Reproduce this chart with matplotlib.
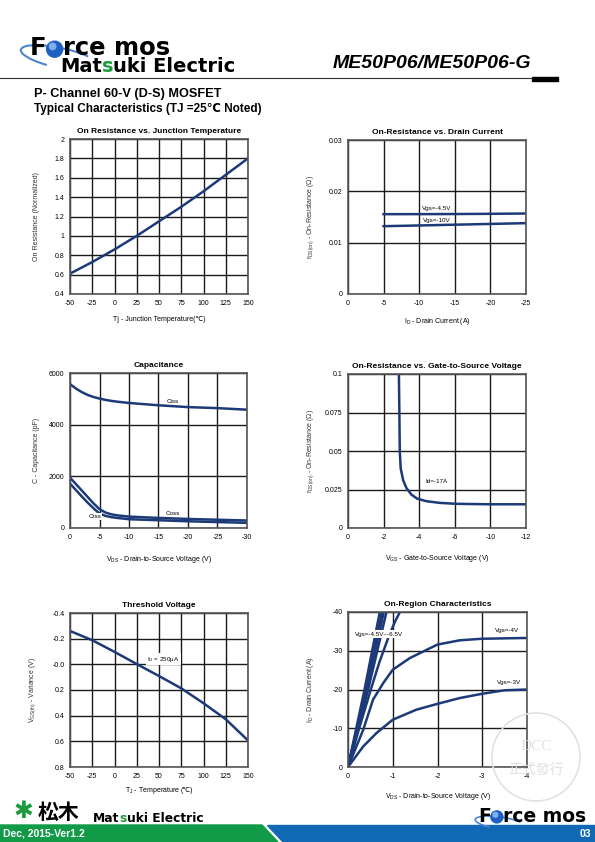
import numpy as np
import matplotlib
matplotlib.use('Agg')
import matplotlib.pyplot as plt
from matplotlib.patches import Polygon, Circle, Arc, Rectangle

plt.rcParams['font.family'] = ['Liberation Sans', 'DejaVu Sans']
plt.rcParams['axes.unicode_minus'] = False
plt.rcParams['mathtext.fontset'] = 'custom'
plt.rcParams['mathtext.rm'] = 'Liberation Sans'
plt.rcParams['mathtext.it'] = 'Liberation Sans:italic'
plt.rcParams['mathtext.bf'] = 'Liberation Sans:bold'

W, H = 595, 842
NAVY = '#1c3a78'

# --- On resistance vs junction temperature
tj = [-50, -25, 0, 25, 50, 75, 100, 125, 150]
ron_norm = [0.61, 0.73, 0.86, 1.00, 1.15, 1.30, 1.46, 1.63, 1.80]

# --- On resistance vs drain current
id_a = [-5, -10, -15, -20, -25]
ron_vgs45 = [0.01555, 0.01556, 0.01558, 0.01562, 0.01568]
ron_vgs10 = [0.01321, 0.01335, 0.01350, 0.01365, 0.01380]

# --- Capacitance
vds_cap = [0, -1, -2, -3, -4, -5, -6, -7, -8, -10, -15, -20, -25, -30]
ciss = [5570, 5400, 5260, 5150, 5070, 5010, 4960, 4920, 4890, 4840, 4750, 4680, 4640, 4580]
coss = [1950, 1700, 1450, 1200, 950, 730, 600, 530, 490, 440, 390, 350, 320, 290]
crss = [1720, 1470, 1220, 980, 760, 560, 470, 420, 390, 340, 300, 260, 230, 200]

# --- On resistance vs gate-to-source voltage (Id=-17A)
vgs = [-2.86, -2.91, -2.96, -3.10, -3.28, -3.56, -3.88, -4.4, -5.16, -6.2, -10, -12]
ron_vgs = [0.1, 0.05, 0.0387, 0.031, 0.026, 0.0217, 0.0191, 0.0174, 0.0163, 0.0157, 0.0154, 0.0154]
vgs_ticks = [0, -2, -4, -6, -10, -12]

# --- Threshold voltage
tj_vth = [-50, -25, 0, 25, 50, 75, 100, 125, 150]
vth_var = [-0.26, -0.188, -0.097, -0.002, 0.091, 0.187, 0.303, 0.428, 0.593]

# --- On-region characteristics
vds_m3 = [0, -0.34, -0.64, -1.0, -1.53, -2.0, -2.5, -3.0, -3.5, -4.0]
id_m3 = [0, -5.3, -8.8, -12.2, -14.8, -16.3, -17.8, -18.9, -19.8, -20.0]
vds_m4 = [0, -0.34, -0.56, -0.79, -1.0, -1.38, -2.0, -2.5, -3.0, -4.0]
id_m4 = [0, -9.6, -17.4, -21.7, -25.1, -28.1, -31.6, -32.7, -33.1, -33.3]
vds_m45 = [0, -0.25, -0.51, -0.70, -0.92, -1.05, -1.16]
id_m45 = [0, -10, -20, -27, -34, -37.5, -40]
vds_m5 = [0, -0.45, -0.86]
vds_m55 = [0, -0.42, -0.80]
vds_m6 = [0, -0.40, -0.76]
vds_m65 = [0, -0.37, -0.71]
id_lin = [0, -20, -40]

fig = plt.figure(figsize=(W / 100, H / 100), dpi=100)


def px_axes(x0, y0, x1, y1):
    return fig.add_axes([x0 / W, 1 - y1 / H, (x1 - x0) / W, (y1 - y0) / H])


def style(ax, title, xlabel, ylabel, ylab_x, xlab_y):
    ax.set_title(title, fontsize=6, fontweight='bold', pad=4)
    ax.set_xlabel(xlabel, fontsize=5)
    ax.set_ylabel(ylabel, fontsize=5, color='#333333')
    ax.yaxis.set_label_coords(ylab_x, 0.5)
    ax.xaxis.set_label_coords(0.5, xlab_y)
    ax.tick_params(length=0, labelsize=5, pad=4)
    ax.grid(True, color='#1a1a1a', linewidth=1.0)
    ax.set_axisbelow(True)
    for s in ax.spines.values():
        s.set_color('#555555')
        s.set_linewidth(1.2)


# chart 1
ax1 = px_axes(70, 139, 248, 294)
ax1.plot(tj, ron_norm, color=NAVY, lw=1.8)
ax1.set_xlim(-50, 150)
ax1.set_ylim(0.4, 2)
ax1.set_xticks(tj)
ax1.set_yticks(np.arange(0.4, 2.01, 0.2))
ax1.set_yticklabels(['0.4', '0.6', '0.8', '1', '1.2', '1.4', '1.6', '1.8', '2'])
style(ax1, 'On Resistance vs. Junction Temperature', 'Tj - Junction Temperature(℃)',
      'On Resistance (Normalized)', -0.166, -0.145)

# chart 2
ax2 = px_axes(348, 140, 526, 294)
ax2.plot(id_a, ron_vgs45, color=NAVY, lw=1.8)
ax2.plot(id_a, ron_vgs10, color=NAVY, lw=1.8)
ax2.set_xlim(0, -25)
ax2.set_ylim(0, 0.03)
ax2.set_xticks([0, -5, -10, -15, -20, -25])
ax2.set_yticks([0, 0.01, 0.02, 0.03])
ax2.set_yticklabels(['0', '0.01', '0.02', '0.03'])
ax2.text(-12.4, 0.01666, 'Vgs=-4.5V', fontsize=4.5, ha='center', va='center')
ax2.text(-12.4, 0.01438, 'Vgs=-10V', fontsize=4.5, ha='center', va='center')
style(ax2, 'On-Resistance vs. Drain Current', r'I$_{\mathrm{D}}$ - Drain Current (A)',
      r'r$_{\mathrm{DS(on)}}$ - On-Resistance (Ω)', -0.177, -0.14)

# chart 3
ax3 = px_axes(70, 373, 247, 528)
ax3.plot(vds_cap, ciss, color=NAVY, lw=1.8)
ax3.plot(vds_cap, coss, color=NAVY, lw=1.8)
ax3.plot(vds_cap, crss, color=NAVY, lw=1.8)
ax3.set_xlim(0, -30)
ax3.set_ylim(0, 6000)
ax3.set_xticks([0, -5, -10, -15, -20, -25, -30])
ax3.set_yticks([0, 2000, 4000, 6000])
ax3.text(-17.4, 4900, 'Ciss', fontsize=4.5, ha='center', va='center')
ax3.text(-17.4, 560, 'Coss', fontsize=4.5, ha='center', va='center')
ax3.text(-4.3, 440, 'Crss', fontsize=4.5, ha='center', va='center',
         bbox=dict(facecolor='white', edgecolor='none', pad=0.5))
style(ax3, 'Capacitance', r'V$_{\mathrm{DS}}$ - Drain-to-Source Voltage (V)',
      'C - Capacitance (pF)', -0.172, -0.165)


# chart 4 (uneven tick spacing on x)
def fwd(x):
    return np.interp(x, [-12, -10, -6, -4, -2, 0], [-5, -4, -3, -2, -1, 0])


def inv(y):
    return np.interp(y, [-5, -4, -3, -2, -1, 0], [-12, -10, -6, -4, -2, 0])


ax4 = px_axes(348, 374, 526, 528)
ax4.set_xscale('function', functions=(fwd, inv))
ax4.plot(vgs, ron_vgs, color=NAVY, lw=1.8)
ax4.set_xlim(0, -12)
ax4.set_ylim(0, 0.1)
ax4.set_xticks(vgs_ticks)
ax4.set_xticklabels([str(v) for v in vgs_ticks])
ax4.xaxis.set_minor_locator(matplotlib.ticker.NullLocator())
ax4.set_yticks([0, 0.025, 0.05, 0.075, 0.1])
ax4.set_yticklabels(['0', '0.025', '0.05', '0.075', '0.1'])
ax4.text(-4.97, 0.0304, 'Id=-17A', fontsize=4.5, ha='center', va='center')
style(ax4, 'On-Resistance vs. Gate-to-Source Voltage',
      r'V$_{\mathrm{GS}}$ - Gate-to-Source Voltage (V)',
      r'r$_{\mathrm{DS(on)}}$ - On-Resistance (Ω)', -0.177, -0.16)

# chart 5
ax5 = px_axes(70, 613, 248, 767)
ax5.plot(tj_vth, vth_var, color=NAVY, lw=1.8)
ax5.set_xlim(-50, 150)
ax5.set_ylim(0.8, -0.4)
ax5.set_xticks(tj_vth)
ax5.set_yticks([-0.4, -0.2, 0, 0.2, 0.4, 0.6, 0.8])
ax5.set_yticklabels(['-0.4', '-0.2', '-0.0', '0.2', '0.4', '0.6', '0.8'])
ax5.text(55, -0.04, r'I$_{\mathrm{D}}$ = 250μA', fontsize=4.5, ha='center', va='center',
         bbox=dict(facecolor='white', edgecolor='none', pad=1))
style(ax5, 'Threshold Voltage', '', r'V$_{\mathrm{GS(th)}}$ - Variance (V)', -0.177, -0.133)

# chart 6
ax6 = px_axes(348, 612, 527, 767)
for xs in (vds_m5, vds_m55, vds_m6, vds_m65):
    ax6.plot(xs, id_lin, color=NAVY, lw=1.8)
ax6.plot(vds_m45, id_m45, color=NAVY, lw=1.8)
ax6.plot(vds_m4, id_m4, color=NAVY, lw=1.8)
ax6.plot(vds_m3, id_m3, color=NAVY, lw=1.8)
ax6.set_xlim(0, -4)
ax6.set_ylim(0, -40)
ax6.set_xticks([0, -1, -2, -3, -4])
ax6.set_yticks([0, -10, -20, -30, -40])
ax6.text(-0.15, -34.3, 'Vgs=-4.5V~-6.5V', fontsize=4.5, ha='left', va='center',
         bbox=dict(facecolor='white', edgecolor='none', pad=1))
ax6.text(-3.55, -35.2, 'Vgs=-4V', fontsize=4.5, ha='center', va='center')
ax6.text(-3.6, -21.8, 'Vgs=-3V', fontsize=4.5, ha='center', va='center')
style(ax6, 'On-Region Characteristics', r'V$_{\mathrm{DS}}$ - Drain-to-Source Voltage (V)',
      r'I$_{\mathrm{D}}$ - Drain Current (A)', -0.176, -0.158)

# overlay in pixel coordinates for page decorations
ov = fig.add_axes([0, 0, 1, 1])
ov.set_xlim(0, W)
ov.set_ylim(H, 0)
ov.axis('off')
ov.patch.set_visible(False)
renderer = fig.canvas.get_renderer()


def width_of(s, **kw):
    t = ov.text(0, 0, s, **kw)
    w = t.get_window_extent(renderer=renderer).width
    t.remove()
    return w


# chart 5 x label: mathtext subscript part + plain part with the ℃ sign
lab_a = r'T$_{\mathrm{J}}$ - Temperature '
lab_b = '(℃)'
wa = width_of(lab_a, fontsize=5)
wb = width_of(lab_b, fontsize=5)
x0 = 159 - (wa + wb) / 2
ov.text(x0, 791, lab_a, fontsize=5, va='center')
ov.text(x0 + wa, 791, lab_b, fontsize=5, va='center')


def matsuki(x, y, size):
    kw = dict(fontsize=size, fontweight='bold', family='DejaVu Sans', va='center')
    full = 'Matsuki Electric'
    ov.text(x, y, 'Mat', color='black', **kw)
    ov.text(x + width_of('Mats', **kw) - width_of('s', **kw), y, 's', color='#1a9a3a', **kw)
    ov.text(x + width_of(full, **kw) - width_of('uki Electric', **kw), y, 'uki Electric',
            color='black', **kw)


def force_mos(x, y, size, r):
    kw = dict(fontsize=size, fontweight='bold', family='DejaVu Sans', va='center')
    ov.text(x, y, 'F', **kw)
    x += width_of('F', **kw)
    ov.add_patch(Circle((x + r, y + 0.15 * r), r, color='#1f5fbf', zorder=3))
    ov.add_patch(Circle((x + 0.75 * r, y - 0.2 * r), 0.4 * r, color='#7fb0ee', zorder=3))
    ov.text(x + 2 * r + 0.5, y, 'rce mos', **kw)


# header logo
ov.add_patch(Arc((60, 58), 80, 20, angle=12, theta1=140, theta2=345, color='#4a86d0', lw=1.5))
force_mos(30, 48, 17.5, 8)
matsuki(60, 67, 14)

ov.text(531, 64, 'ME50P06/ME50P06-G', fontsize=14, fontweight='bold', style='italic',
        ha='right', va='center')
ov.plot([0, 532], [78, 78], color='#333333', lw=0.8)
ov.add_patch(Rectangle((532, 76.5), 26, 4, color='black'))

ov.text(34, 94, 'P- Channel 60-V (D-S) MOSFET', fontsize=9.2, fontweight='bold', va='center')
ov.text(34, 109, 'Typical Characteristics (TJ =25℃ Noted)', fontsize=8.5, fontweight='bold',
        va='center')

# watermark
ov.add_patch(Circle((536, 757), 44, fill=False, edgecolor='#e2e2e2', lw=1.2))
ov.text(536, 746, 'DCC', fontsize=11, color='#e0e0e0', ha='center', va='center',
        family='Liberation Serif')
ov.text(536, 770, '正式發行', fontsize=10, color='#e0e0e0', ha='center', va='center',
        family=['Noto Sans CJK TC', 'DejaVu Sans'])

# footer
ov.add_patch(Polygon([(0, 825), (262, 825), (278, 842), (0, 842)], color='#119a48'))
ov.add_patch(Polygon([(267, 825), (595, 825), (595, 842), (283, 842)], color='#1169b5'))
ov.text(3, 834, 'Dec, 2015-Ver1.2', fontsize=7.5, fontweight='bold', color='white', va='center',
        family=['Liberation Sans Narrow', 'Liberation Sans'])
ov.text(591, 834, '03', fontsize=7.5, fontweight='bold', color='white', va='center', ha='right',
        family=['Liberation Sans Narrow', 'Liberation Sans'])
ov.text(23, 811, '✱', fontsize=17, color='#1a9a3a', ha='center', va='center', family='DejaVu Sans')
ov.text(38, 812, '松木', fontsize=15, fontweight='bold', va='center',
        family=['Noto Sans CJK JP', 'DejaVu Sans'])
matsuki(93, 818, 8.8)
ov.add_patch(Arc((500, 823), 50, 12, angle=8, theta1=150, theta2=350, color='#4a86d0', lw=1.2))
force_mos(478, 816, 13.5, 6)

fig.savefig('out.png', dpi=100)
